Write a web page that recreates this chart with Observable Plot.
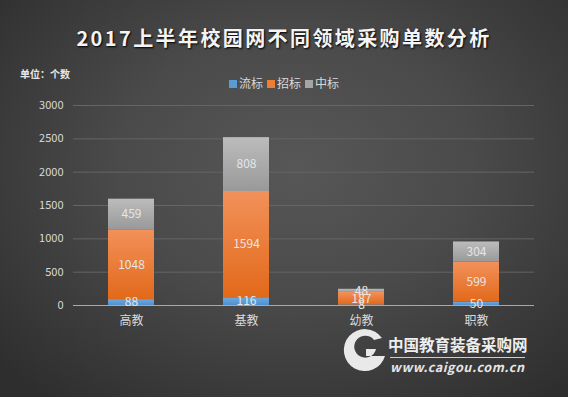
<!DOCTYPE html>
<html><head><meta charset="utf-8">
<script src="https://cdn.jsdelivr.net/npm/d3@7"></script>
<script src="https://cdn.jsdelivr.net/npm/@observablehq/plot@0.6"></script>
<style>
body{margin:0;background:#333;}
#c{position:relative;width:568px;height:397px;overflow:hidden;
 background:radial-gradient(ellipse 70% 75% at 52% 42%, #575757 0%, #4a4a4a 45%, #2e2e2e 100%);
 font-family:"Noto Sans CJK SC","Noto Sans",sans-serif;}
#title{position:absolute;left:0;width:568px;top:24px;text-align:center;color:#f4f4f4;font-size:20px;font-weight:bold;letter-spacing:2.4px;text-shadow:1px 1px 2px #000;line-height:28px;}
#unit{position:absolute;left:20px;top:67px;color:#e8e8e8;font-size:10px;font-weight:bold;line-height:14px;}
#legend{position:absolute;left:0;width:568px;top:75px;text-align:center;color:#d9d9d9;font-size:12px;line-height:16px;}
#legend span{margin:0 2px;}
#legend i{display:inline-block;width:8px;height:8px;margin-right:2px;vertical-align:0px;}
#plot{position:absolute;left:0;top:0;}
#wm{position:absolute;left:0;top:0;pointer-events:none;}
#wm1{position:absolute;left:388px;top:334px;color:#eeeeee;font-size:15.5px;font-weight:bold;line-height:20px;letter-spacing:0px;}
#wm2{position:absolute;left:390px;top:357px;color:#e6e6e6;font-size:12.5px;font-weight:bold;font-style:italic;line-height:16px;letter-spacing:0.6px;border-top:1px solid #cfcfcf;padding-top:1px;}
</style></head><body>
<div id="c">
 <div id="plot"></div>
 <div id="title">2017上半年校园网不同领域采购单数分析</div>
 <div id="unit">单位：个数</div>
 <div id="legend"></div>
 <svg id="wm" width="568" height="397"><path d="M 382 338 A 21 21 0 1 0 385 356 L 366 356 L 366 349 L 376 349 A 11 11 0 1 1 374 340 Z" fill="#f2f2f2" opacity="0.95"/></svg>
 <div id="wm1">中国教育装备采购网</div>
 <div id="wm2">www.caigou.com.cn</div>
</div>
<script>
const categories = ["高教","基教","幼教","职教"];
const seriesNames = ["流标","招标","中标"];
const liubiao = [88,116,8,50];
const zhaobiao = [1048,1594,187,599];
const zhongbiao = [459,808,48,304];
const yTicks = [0,500,1000,1500,2000,2500,3000];
const legendColors = ["#5b9bd5","#ed7d31","#a5a5a5"];
const gradTop = ["#6eaae0","#f2915a","#bcbcbc"];
const gradBottom = ["#5090d0","#e2691a","#999999"];

const seriesValues = [liubiao, zhaobiao, zhongbiao];
const data = [];
seriesNames.forEach((s, si) => categories.forEach((c, ci) => data.push({cat: c, series: s, value: seriesValues[si][ci]})));

const chart = Plot.plot({
  width: 568, height: 397,
  marginTop: 105, marginBottom: 92, marginLeft: 73, marginRight: 34,
  style: {background: "transparent", fontFamily: "'Noto Sans CJK SC', sans-serif", color: "#d9d9d9"},
  x: {domain: categories, paddingInner: 0.6, paddingOuter: 0.3, label: null},
  y: {domain: [0, 3000], label: null},
  color: {domain: seriesNames, range: ["url(#g0)","url(#g1)","url(#g2)"]},
  marks: [
    Plot.ruleY(yTicks.filter(d => d > 0), {stroke: "#656565", strokeWidth: 1}),
    Plot.axisY({ticks: yTicks, tickFormat: d => String(d), tickSize: 0, tickPadding: 10, fontSize: 11, fill: "#d9d9d9", label: null}),
    Plot.axisX({tickSize: 0, tickPadding: 11, fontSize: 12, fill: "#d9d9d9", label: null}),
    Plot.barY(data, Plot.stackY({x: "cat", y: "value", fill: "series", z: "series"})),
    Plot.ruleY([0], {stroke: "#a8a8a8", strokeWidth: 1.2}),
    Plot.text(data, Plot.stackY({x: "cat", y: "value", z: "series", text: d => String(d.value), fill: "#e6e6e6", fontSize: 12}))
  ]
});
document.getElementById("plot").appendChild(chart);

const svg = d3.select(chart);
const defs = svg.insert("defs", ":first-child");
seriesNames.forEach((s, i) => {
  const g = defs.append("linearGradient").attr("id", "g" + i).attr("x1", 0).attr("y1", 0).attr("x2", 0).attr("y2", 1);
  g.append("stop").attr("offset", "0%").attr("stop-color", gradTop[i]);
  g.append("stop").attr("offset", "100%").attr("stop-color", gradBottom[i]);
});

const legend = document.getElementById("legend");
seriesNames.forEach((s, i) => {
  const sp = document.createElement("span");
  sp.innerHTML = `<i style="background:${legendColors[i]}"></i>${s}`;
  legend.appendChild(sp);
});
</script>
</body></html>
